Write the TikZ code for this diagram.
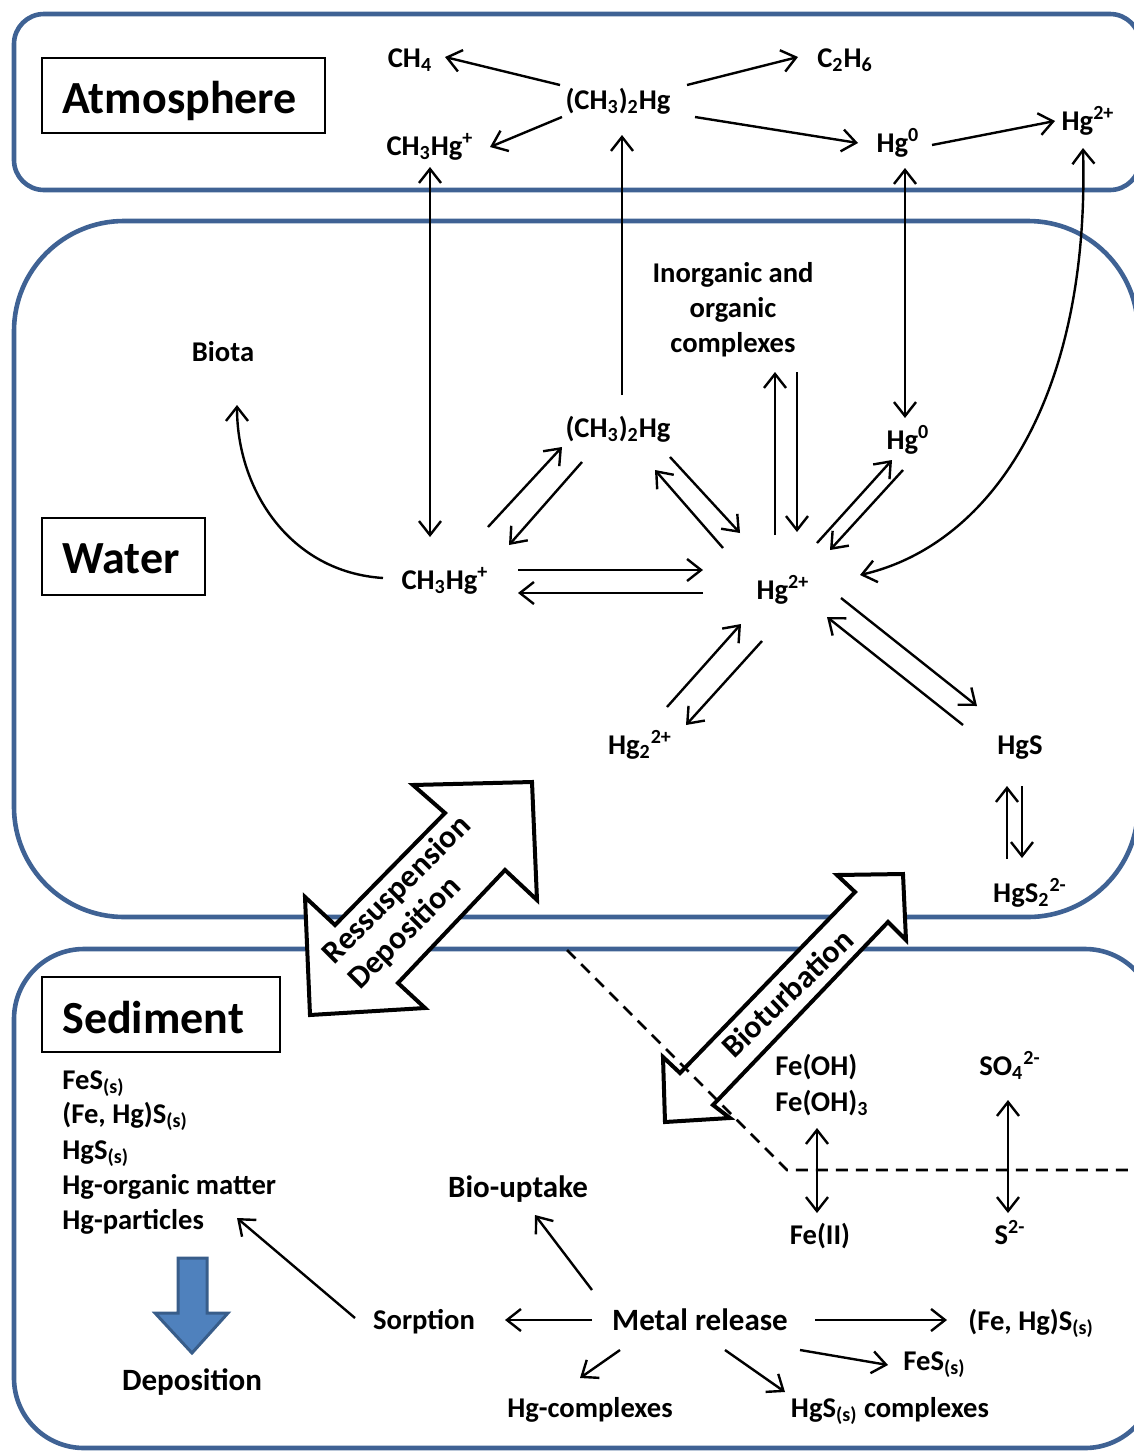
\documentclass[tikz,border=0pt]{standalone}
\usepackage{fontspec}
\setmainfont{Carlito}
\usetikzlibrary{arrows.meta}
\definecolor{boxblue}{RGB}{63,98,148}
\definecolor{arrfill}{RGB}{79,129,189}
\definecolor{arredge}{RGB}{56,93,138}
\begin{document}
\begin{tikzpicture}[x=0.5pt,y=-0.5pt,
  every node/.style={font=\bfseries\fontsize{14.3}{17.5}\selectfont, inner sep=0pt, anchor=base},
  big/.style={font=\bfseries\fontsize{15.5}{18}\selectfont},
  headtxt/.style={font=\bfseries\fontsize{23}{27}\selectfont, anchor=base west},
  headbox/.style={draw, line width=1.25pt},
  arr/.style={-{Straight Barb[length=7pt,width=11pt,line width=1.2pt]}, line width=1.2pt},
  darr/.style={{Straight Barb[length=7pt,width=11pt,line width=1.2pt]}-{Straight Barb[length=7pt,width=11pt,line width=1.2pt]}, line width=1.2pt},
  zone/.style={draw=boxblue, line width=2.3pt},
  block/.style={draw, line width=2pt, fill=white, line join=miter},
  rot/.style={font=\bfseries\fontsize{16}{18}\selectfont, anchor=center, rotate=45}
]
\useasboundingbox (0,0) rectangle (1134,1452);
\clip (0,0) rectangle (1134,1452);

% zones
\draw[zone, rounded corners=15pt] (14,14) rectangle (1140,190);
\draw[zone, rounded corners=55pt] (14,221) rectangle (1138,917);
\draw[zone, rounded corners=35pt] (14,949) rectangle (1155,1448);

% heading boxes
\draw[headbox] (42,58) rectangle (325,133);
\draw[headbox] (42,518) rectangle (205,595);
\draw[headbox] (42,977) rectangle (280,1052);
\node[headtxt] (hatm) at (62,113) {Atmosphere};
\node[headtxt] (hwat) at (62,573) {Water};
\node[headtxt] (hsed) at (62,1033) {Sediment};

% Atmosphere nodes
\node (ch4a) at (410,67) {CH\textsubscript{4}};
\node (dmha) at (618,109) {(CH\textsubscript{3})\textsubscript{2}Hg};
\node (c2h6) at (845,67) {C\textsubscript{2}H\textsubscript{6}};
\node (mhga) at (430,155) {CH\textsubscript{3}Hg\textsuperscript{+}};
\node (hg0a) at (898,152) {Hg\textsuperscript{0}};
\node (hg2a) at (1088,130) {Hg\textsuperscript{2+}};

% Water nodes
\node (biota) at (223,361) {Biota};
\node[anchor=center, align=center] (inorg) at (733,310) {Inorganic and\\organic\\complexes};
\node (dmhw) at (618,437) {(CH\textsubscript{3})\textsubscript{2}Hg};
\node (hg0w) at (908,449) {Hg\textsuperscript{0}};
\node (mhgw) at (445,589) {CH\textsubscript{3}Hg\textsuperscript{+}};
\node (hg2w) at (783,599) {Hg\textsuperscript{2+}};
\node (hg22) at (640,754) {Hg\textsubscript{2}\textsuperscript{2+}};
\node (hgs) at (1020,754) {HgS};
\node (hgs2) at (1030,902) {HgS\textsubscript{2}\textsuperscript{2-}};

% Sediment nodes
\node[anchor=base west] (l1) at (62,1089) {FeS\textsubscript{(s)}};
\node[anchor=base west] (l2) at (62,1123) {(Fe, Hg)S\textsubscript{(s)}};
\node[anchor=base west] (l3) at (62,1159) {HgS\textsubscript{(s)}};
\node[anchor=base west] (l4) at (62,1194) {Hg-organic matter};
\node[anchor=base west] (l5) at (62,1229) {Hg-particles};
\node[big] (depo) at (192,1390) {Deposition};
\node[big] (bioup) at (518,1197) {Bio-uptake};
\node (sorp) at (424,1329) {Sorption};
\node[big] (metal) at (700,1330) {Metal release};
\node[anchor=base west] (fehgs) at (968,1330) {(Fe, Hg)S\textsubscript{(s)}};
\node[anchor=base west] (fes) at (903,1370) {FeS\textsubscript{(s)}};
\node (hgcx) at (590,1417) {Hg-complexes};
\node (hgscx) at (890,1417) {HgS\textsubscript{(s)} complexes};
\node[anchor=base west] (feoh) at (775,1075) {Fe(OH)};
\node[anchor=base west] (feoh3) at (775,1111) {Fe(OH)\textsubscript{3}};
\node (so4) at (1010,1075) {SO\textsubscript{4}\textsuperscript{2-}};
\node (fe2) at (820,1244) {Fe(II)};
\node (s2) at (1010,1244) {S\textsuperscript{2-}};

% blue deposition arrow
\draw[fill=arrfill, draw=arredge, line width=1.5pt, line join=miter]
  (178,1258) -- (207,1258) -- (207,1313) -- (228,1313) -- (192,1353) -- (155,1313) -- (178,1313) -- cycle;

% Atmosphere arrows
\draw[arr] (560,85) -- (445,57);
\draw[arr] (687,85) -- (798,57);
\draw[arr] (562,117) -- (490,147);
\draw[arr] (695,117) -- (858,143);
\draw[arr] (932,145) -- (1055,121);
\draw[darr] (430,167) -- (430,537);
\draw[arr] (622,395) -- (622,135);
\draw[darr] (905,168) -- (905,418);
\draw[darr] (860,575) .. controls (990,545) and (1090,400) .. (1083,148);

% Water arrows
\draw[arr] (383,578) .. controls (290,572) and (237,490) .. (237,405);
\draw[arr] (488,527) -- (562,447);
\draw[arr] (582,462) -- (509,545);
\draw[arr] (670,457) -- (740,533);
\draw[arr] (723,548) -- (655,470);
\draw[arr] (775,535) -- (775,372);
\draw[arr] (797,372) -- (797,532);
\draw[arr] (817,543) -- (892,460);
\draw[arr] (903,470) -- (830,550);
\draw[arr] (518,570) -- (703,570);
\draw[arr] (703,593) -- (518,593);
\draw[arr] (762,641) -- (686,725);
\draw[arr] (667,707) -- (741,624);
\draw[arr] (841,598) -- (977,706);
\draw[arr] (963,725) -- (827,617);
\draw[arr] (1007,859) -- (1007,786);
\draw[arr] (1022,786) -- (1022,858);

% block arrows
\draw[block] (413,785) -- (532,782) -- (537,900) -- (505,870) -- (398,983) -- (425,1008) -- (310,1015) -- (305,897) -- (335,925) -- (445,813) -- cycle;
\node[rot, align=left] (ress) at (410,903) {Ressuspension\\Deposition};
\draw[block] (837,875) -- (903,874) -- (906,940) -- (888,922) -- (713,1105) -- (730,1118) -- (665,1122) -- (663,1057) -- (680,1073) -- (855,892) -- cycle;
\node[rot, rotate=-1] (biot) at (787,993) {Bioturbation};

% dashed redox line
\draw[line width=1.3pt, dash pattern=on 6pt off 4pt] (567,950) -- (787,1170) -- (1140,1170);

% Sediment arrows
\draw[arr] (592,1290) -- (535,1215);
\draw[arr] (592,1320) -- (505,1320);
\draw[arr] (355,1318) -- (237,1218);
\draw[arr] (815,1320) -- (947,1320);
\draw[arr] (620,1350) -- (580,1378);
\draw[arr] (725,1350) -- (785,1392);
\draw[arr] (800,1350) -- (888,1365);
\draw[darr] (817,1128) -- (817,1213);
\draw[darr] (1008,1100) -- (1008,1213);
\end{tikzpicture}
\end{document}
